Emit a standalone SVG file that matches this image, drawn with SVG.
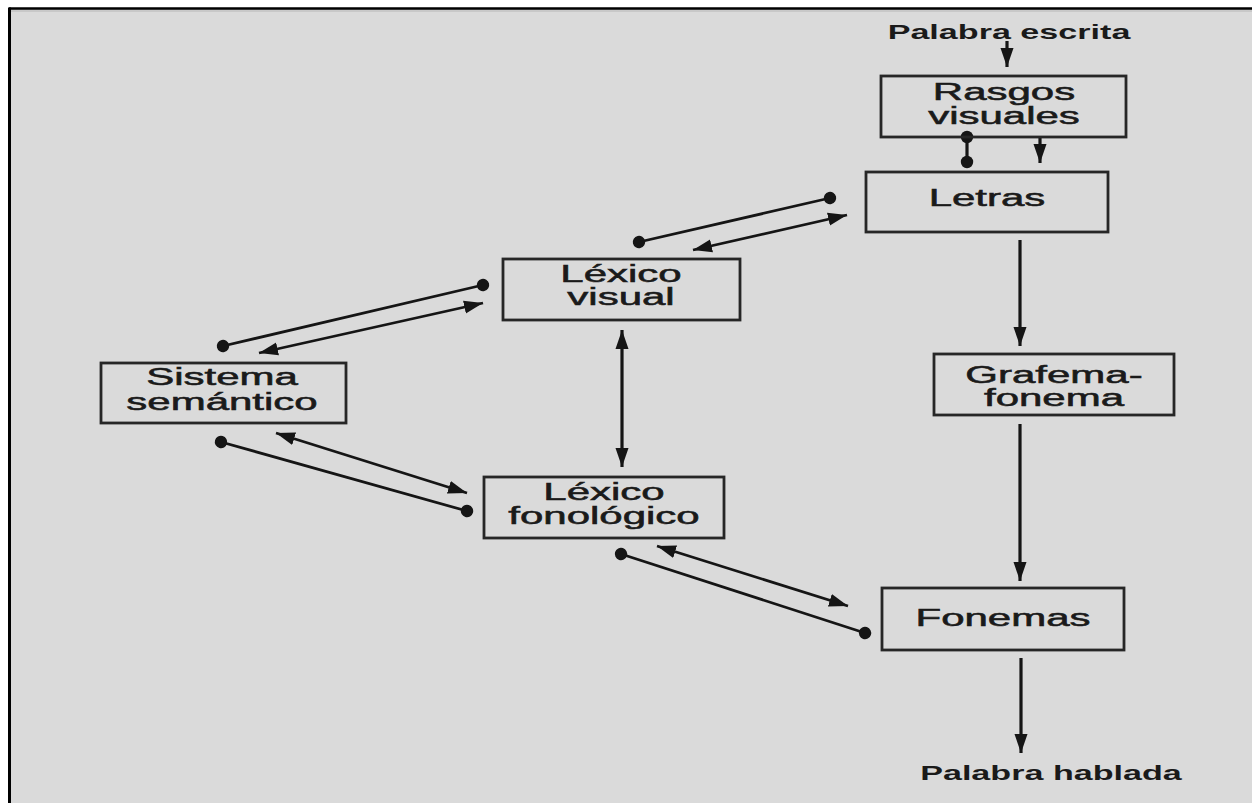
<svg xmlns="http://www.w3.org/2000/svg" width="1252" height="803" viewBox="0 0 1252 803">
  <style>
    .box { fill: none; stroke: #262626; stroke-width: 2.8; }
    .lbl { font-family: "Liberation Sans", Arial, sans-serif; font-size: 24px; fill: #1a1a1a; stroke: #1a1a1a; stroke-width: 0.55; text-anchor: middle; }
    .io { font-family: "Liberation Sans", Arial, sans-serif; font-size: 19.5px; font-weight: bold; fill: #1a1a1a; text-anchor: middle; }
    .ln { fill: none; stroke: #151515; stroke-width: 2.8; }
    .vln { fill: none; stroke: #151515; stroke-width: 3.2; }
  </style>
  <defs>
    <marker id="arrow" markerUnits="userSpaceOnUse" markerWidth="20" markerHeight="16" viewBox="0 0 20 16" refX="19" refY="8" orient="auto-start-reverse">
      <path d="M0,1.5 L19,8 L0,14.5 Z" fill="#151515"/>
    </marker>
    <marker id="dot" markerUnits="userSpaceOnUse" markerWidth="16" markerHeight="16" viewBox="0 0 16 16" refX="8" refY="8" orient="auto">
      <circle cx="8" cy="8" r="6.2" fill="#151515"/>
    </marker>
  </defs>

  <!-- page and frame -->
  <rect x="0" y="0" width="1252" height="803" fill="#ffffff"/>
  <rect x="10" y="9" width="1242" height="794" fill="#dadada"/>
  <line x1="10" y1="10.5" x2="1252" y2="10.5" stroke="#c8c8c8" stroke-width="3"/>
  <line x1="9" y1="8.5" x2="1252" y2="8.5" stroke="#000" stroke-width="2.5"/>
  <line x1="9.5" y1="7.5" x2="9.5" y2="803" stroke="#000" stroke-width="3"/>

  <!-- connectors -->
  <g id="connectors">
    <!-- input and main vertical route -->
    <line class="vln" x1="1007" y1="41" x2="1007" y2="67" marker-end="url(#arrow)"/>
    <line class="vln" x1="967" y1="137" x2="967" y2="162" marker-start="url(#dot)" marker-end="url(#dot)"/>
    <line class="vln" x1="1040" y1="137" x2="1040" y2="163" marker-end="url(#arrow)"/>
    <line class="vln" x1="1020" y1="240" x2="1020" y2="346" marker-end="url(#arrow)"/>
    <line class="vln" x1="1020" y1="424" x2="1020" y2="581" marker-end="url(#arrow)"/>
    <line class="vln" x1="1021" y1="658" x2="1021" y2="753" marker-end="url(#arrow)"/>

    <!-- Letras / Léxico visual -->
    <line class="ln" x1="830" y1="198" x2="639" y2="242" marker-start="url(#dot)" marker-end="url(#dot)"/>
    <line class="ln" x1="693" y1="250" x2="847" y2="215" marker-start="url(#arrow)" marker-end="url(#arrow)"/>

    <!-- Léxico visual / Sistema semántico -->
    <line class="ln" x1="483" y1="285" x2="223" y2="346" marker-start="url(#dot)" marker-end="url(#dot)"/>
    <line class="ln" x1="259" y1="353" x2="483" y2="303" marker-start="url(#arrow)" marker-end="url(#arrow)"/>

    <!-- Léxico visual / Léxico fonológico -->
    <line class="vln" x1="622" y1="330" x2="622" y2="467" marker-start="url(#arrow)" marker-end="url(#arrow)"/>

    <!-- Sistema semántico / Léxico fonológico -->
    <line class="ln" x1="221" y1="442" x2="467" y2="511" marker-start="url(#dot)" marker-end="url(#dot)"/>
    <line class="ln" x1="276" y1="433" x2="467" y2="493" marker-start="url(#arrow)" marker-end="url(#arrow)"/>

    <!-- Léxico fonológico / Fonemas -->
    <line class="ln" x1="621" y1="554" x2="865" y2="633" marker-start="url(#dot)" marker-end="url(#dot)"/>
    <line class="ln" x1="657" y1="546" x2="848" y2="606" marker-start="url(#arrow)" marker-end="url(#arrow)"/>
  </g>

  <!-- terminal labels -->
  <g id="palabra-escrita">
    <text class="io" transform="matrix(1.75 0 0 1 1009 39)">Palabra escrita</text>
  </g>
  <g id="palabra-hablada">
    <text class="io" transform="matrix(1.75 0 0 1 1051 780)">Palabra hablada</text>
  </g>

  <!-- nodes -->
  <g id="rasgos-visuales">
    <rect class="box" x="881" y="76" width="245" height="61"/>
    <text class="lbl" transform="matrix(1.75 0 0 1 1004 100)">Rasgos</text>
    <text class="lbl" transform="matrix(1.75 0 0 1 1004 124)">visuales</text>
  </g>
  <g id="letras">
    <rect class="box" x="866" y="172" width="242" height="60"/>
    <text class="lbl" transform="matrix(1.75 0 0 1 987 206)">Letras</text>
  </g>
  <g id="lexico-visual">
    <rect class="box" x="503" y="259" width="237" height="61"/>
    <text class="lbl" transform="matrix(1.75 0 0 1 621 282)">Léxico</text>
    <text class="lbl" transform="matrix(1.75 0 0 1 621 305)">visual</text>
  </g>
  <g id="grafema-fonema">
    <rect class="box" x="934" y="354" width="240" height="61"/>
    <text class="lbl" transform="matrix(1.75 0 0 1 1054 383)">Grafema-</text>
    <text class="lbl" transform="matrix(1.75 0 0 1 1054 406)">fonema</text>
  </g>
  <g id="sistema-semantico">
    <rect class="box" x="101" y="363" width="245" height="60"/>
    <text class="lbl" transform="matrix(1.75 0 0 1 222 385)">Sistema</text>
    <text class="lbl" transform="matrix(1.75 0 0 1 222 410)">semántico</text>
  </g>
  <g id="lexico-fonologico">
    <rect class="box" x="484" y="477" width="240" height="61"/>
    <text class="lbl" transform="matrix(1.75 0 0 1 604 500)">Léxico</text>
    <text class="lbl" transform="matrix(1.75 0 0 1 604 524)">fonológico</text>
  </g>
  <g id="fonemas">
    <rect class="box" x="882" y="588" width="242" height="62"/>
    <text class="lbl" transform="matrix(1.75 0 0 1 1003 626)">Fonemas</text>
  </g>
</svg>
